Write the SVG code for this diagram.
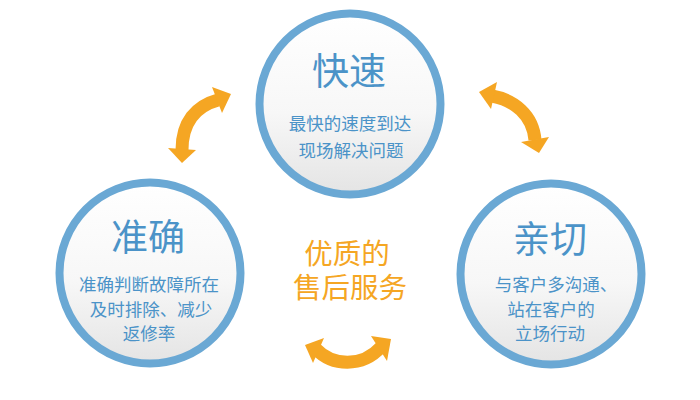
<svg xmlns="http://www.w3.org/2000/svg" width="700" height="400" viewBox="0 0 700 400">
<defs>
<linearGradient id="fill" x1="0" y1="0" x2="0" y2="1">
<stop offset="0" stop-color="#ffffff"/>
<stop offset="0.55" stop-color="#f7f7f7"/>
<stop offset="1" stop-color="#e4e4e4"/>
</linearGradient>
<style>
.ring{fill:url(#fill);stroke:#6aa8d4;stroke-width:8}
.title{font-family:"Noto Sans CJK SC","Noto Sans",sans-serif;font-size:37px;fill:#4b93c8;text-anchor:middle}
.body{font-family:"Noto Sans CJK SC","Noto Sans",sans-serif;font-size:17.5px;fill:#4b93c8;text-anchor:middle}
.center{font-family:"Noto Sans CJK SC","Noto Sans",sans-serif;font-size:28.5px;fill:#f5a623;text-anchor:middle}
.band{fill:none;stroke:#f5a623;stroke-width:13;stroke-linecap:butt}
.head{fill:#f5a623}
</style>
</defs>
<rect width="700" height="400" fill="#ffffff"/>
<g id="connectors">
<g id="arrow-left">
<path class="band" d="M182,150 C182,122 196,106 218,100"/>
<polygon class="head" points="212,87 231,94 222,113"/>
<polygon class="head" points="168,148 196,150 182,163"/>
</g>
<g id="arrow-right">
<path class="band" d="M492,96 C514,100 533,115 535,140"/>
<polygon class="head" points="497,82 479,92 491,109"/>
<polygon class="head" points="521,142 549,137 539,153"/>
</g>
<g id="arrow-bottom">
<path class="band" d="M316,349 C332,366 362,368 381,347"/>
<polygon class="head" points="324,338 305,345 313,363"/>
<polygon class="head" points="371,336 391,339 387,361"/>
</g>
</g>
<g id="node-fast">
<circle class="ring" cx="350" cy="104" r="90.5"/>
<text class="title" x="349" y="85">快速</text>
<text class="body" x="350" y="130">最快的速度到达</text>
<text class="body" x="351" y="157">现场解决问题</text>
</g>
<g id="node-accurate">
<circle class="ring" cx="150" cy="273" r="90.5"/>
<text class="title" x="148" y="251">准确</text>
<text class="body" x="149" y="291">准确判断故障所在</text>
<text class="body" x="151" y="316">及时排除、减少</text>
<text class="body" x="149" y="340">返修率</text>
</g>
<g id="node-kind">
<circle class="ring" cx="551" cy="274" r="90.5"/>
<text class="title" x="550" y="253">亲切</text>
<text class="body" x="556" y="291">与客户多沟通、</text>
<text class="body" x="551" y="316">站在客户的</text>
<text class="body" x="550" y="340">立场行动</text>
</g>
<g id="center-label">
<text class="center" x="347" y="264">优质的</text>
<text class="center" x="350" y="298">售后服务</text>
</g>
</svg>
